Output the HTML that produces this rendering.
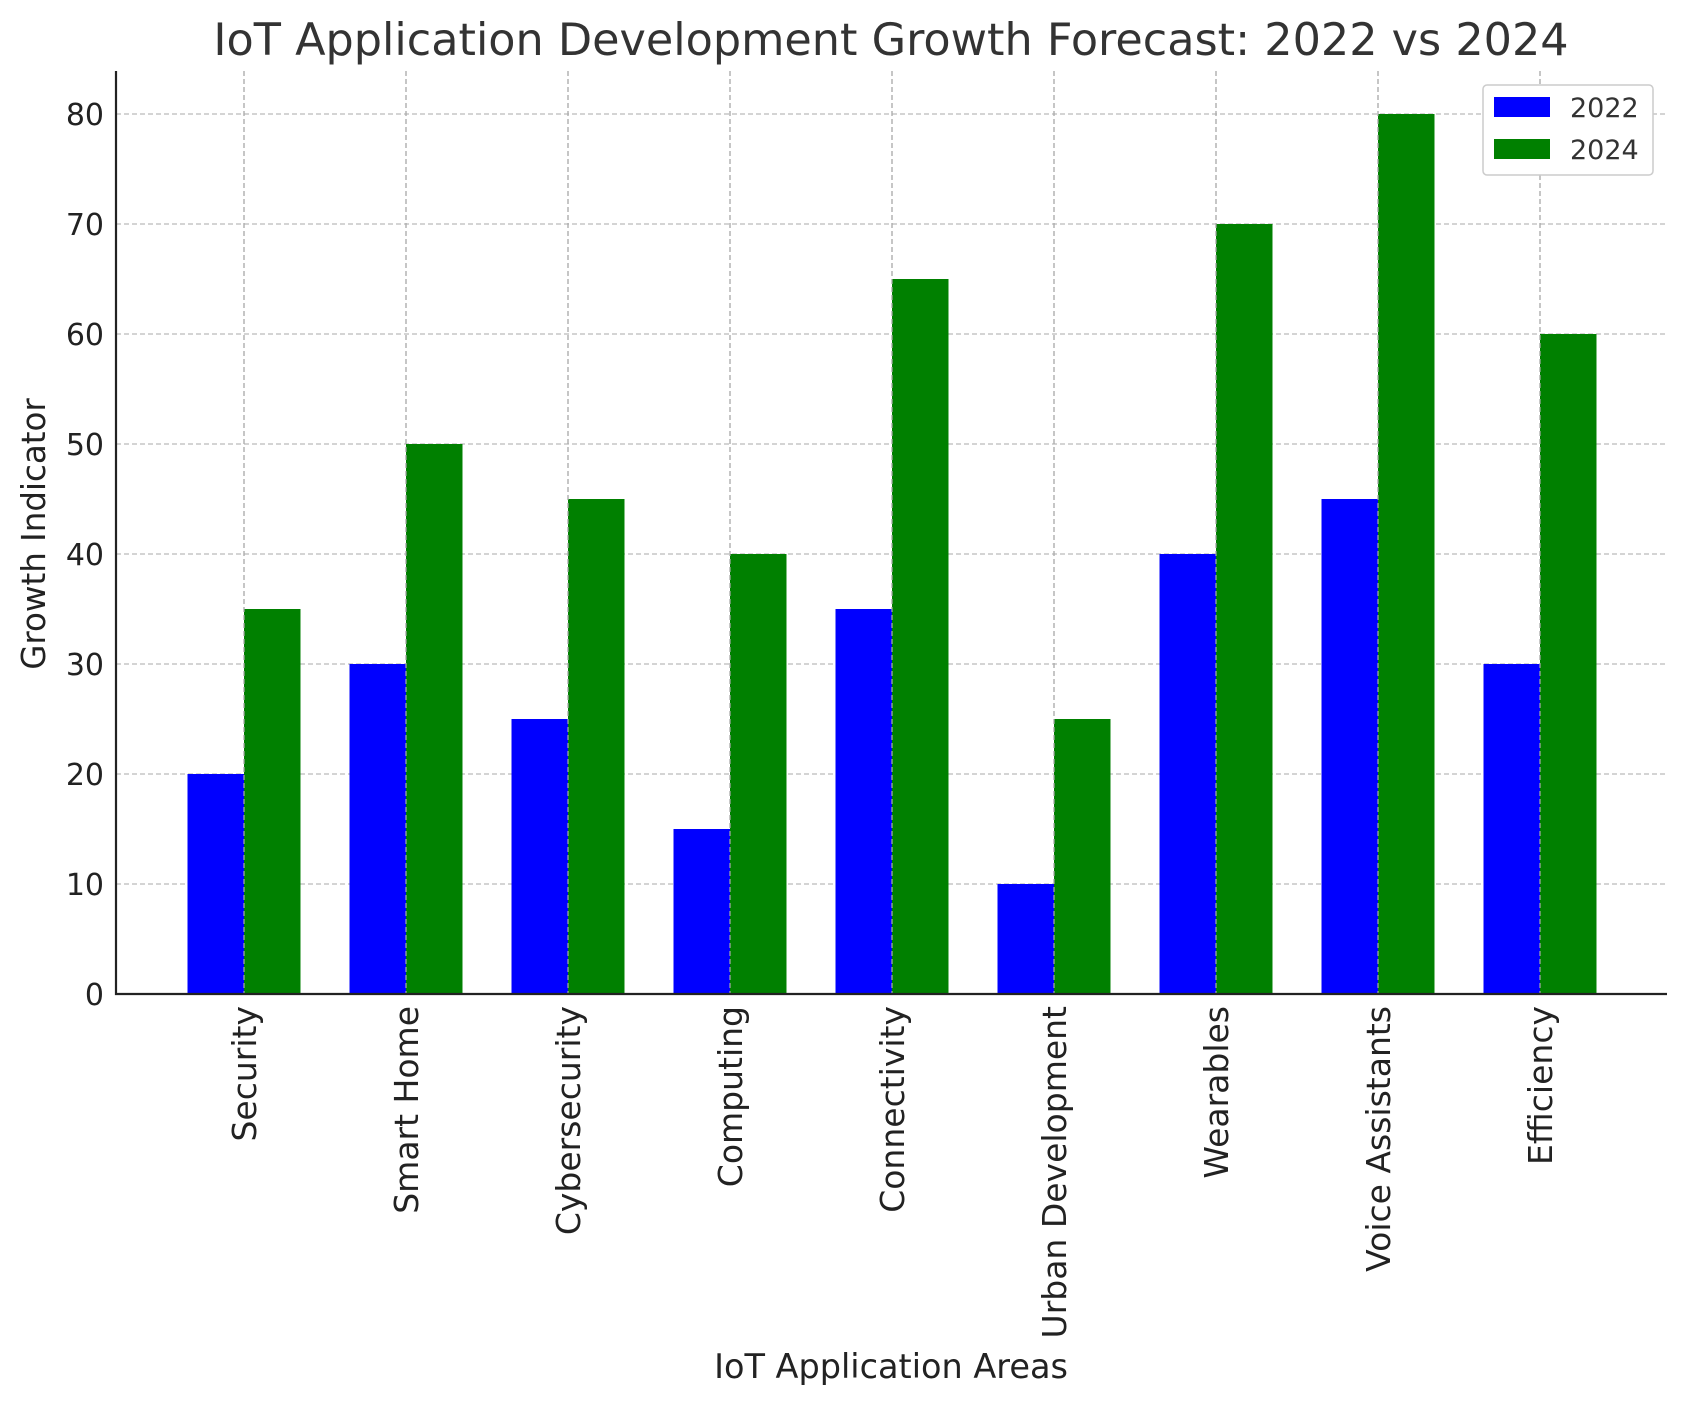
<!DOCTYPE html>
<html><head><meta charset="utf-8"><style>body{margin:0;background:#fff}svg{display:block;font-family:"DejaVu Sans","Liberation Sans",sans-serif}</style></head>
<body>
<svg id="c" width="1686" height="1404"></svg>
<script>
const categories=["Security","Smart Home","Cybersecurity","Computing","Connectivity","Urban Development","Wearables","Voice Assistants","Efficiency"];
const values2022=[20,30,25,15,35,10,40,45,30];
const values2024=[35,50,45,40,65,25,70,80,60];
const yTicks=[0,10,20,30,40,50,60,70,80];
const seriesNames=["2022","2024"];
const L=116,R=1667,T=71,B=994;
const yS=v=>B-v*11;
const xS=i=>244+i*162;
const bw=56.5;
const svg=document.getElementById('c');const NS='http://www.w3.org/2000/svg';
function mk(t,a,txt){const e=document.createElementNS(NS,t);for(const k in a)e.setAttribute(k,a[k]);if(txt!=null)e.textContent=txt;svg.appendChild(e);return e;}
let e;
e=mk('text',{x:891,y:55,'font-size':44.5,'text-anchor':'middle',fill:'#333'},'IoT Application Development Growth Forecast: 2022 vs 2024');

yTicks.forEach(v=>{
 e=mk('line',{x1:L,x2:R,y1:yS(v),y2:yS(v),stroke:'#bbb','stroke-dasharray':'5,3','stroke-width':1.2});
 
 e=mk('text',{x:104,y:yS(v)+11,'font-size':30,'text-anchor':'end',fill:'#222'},String(v));
 
});
categories.forEach((c,i)=>{
 e=mk('line',{x1:xS(i),x2:xS(i),y1:T,y2:B,stroke:'#bbb','stroke-dasharray':'5,3','stroke-width':1.2});
 
});
categories.forEach((c,i)=>{
 e=mk('rect',{x:xS(i)-bw,y:yS(values2022[i]),width:bw,height:B-yS(values2022[i]),fill:'#0000ff'});
 
 e=mk('rect',{x:xS(i),y:yS(values2024[i]),width:bw,height:B-yS(values2024[i]),fill:'#008000'});
 
 e=mk('line',{x1:xS(i),x2:xS(i),y1:T,y2:B,stroke:'#aaa','stroke-dasharray':'5,3','stroke-width':1.2});
 
 e=mk('text',{x:0,y:0,'font-size':33,'text-anchor':'end',fill:'#222',transform:`translate(${xS(i)+12},1006) rotate(-90)`},c);
 
});
e=mk('path',{d:`M${L} ${T}V${B}H${R}`,fill:'none',stroke:'#222','stroke-width':2.2});

e=mk('text',{x:891,y:1378,'font-size':33.5,'text-anchor':'middle',fill:'#222'},'IoT Application Areas');

e=mk('text',{x:0,y:0,'font-size':32.5,'text-anchor':'middle',fill:'#222',transform:'translate(45,534) rotate(-90)'},'Growth Indicator');

e=mk('rect',{x:1483,y:85,width:170,height:90,rx:4,fill:'#fff',stroke:'#ccc','stroke-width':1.5});

const cols=['#0000ff','#008000'];
seriesNames.forEach((s,i)=>{
 e=mk('rect',{x:1494,y:97+i*42,width:56,height:20,fill:cols[i]});
 
 e=mk('text',{x:1570,y:117+i*42,'font-size':27,fill:'#333'},s);
 
});
</script>
</body></html>
